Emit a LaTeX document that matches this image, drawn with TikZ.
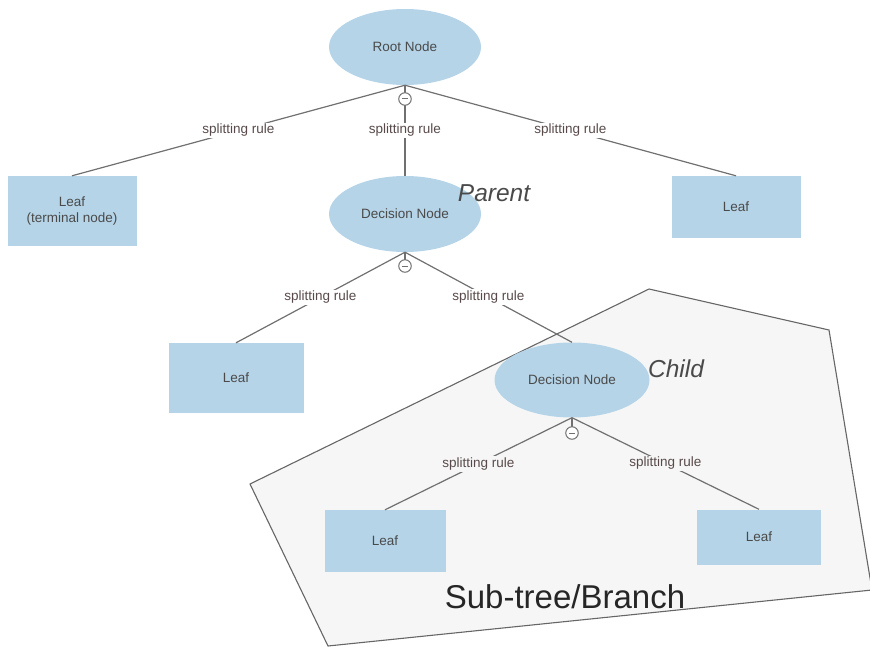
\documentclass[tikz,border=0pt]{standalone}
\usepackage{fontspec}
\setmainfont{Liberation Sans}
\usetikzlibrary{shapes.geometric}
\definecolor{nodeblue}{HTML}{B5D4E8}
\definecolor{edgegray}{HTML}{707070}
\definecolor{txtgray}{HTML}{4A4A4A}
\definecolor{rulegray}{HTML}{584A4A}
\definecolor{branchfill}{HTML}{F6F6F6}
\definecolor{branchline}{HTML}{666666}
\tikzset{
  treeellipse/.style={ellipse, fill=nodeblue, draw=none, inner sep=0pt,
    minimum width=152pt, minimum height=76pt, text=txtgray,
    font=\fontsize{13.5}{15}\selectfont},
  leafbox/.style={rectangle, fill=nodeblue, draw=none, inner sep=0pt,
    text=txtgray, align=center, font=\fontsize{13.5}{16}\selectfont},
  edge/.style={draw=edgegray, line width=1.2pt},
  rulelabel/.style={fill=#1, inner sep=1.5pt, text=rulegray,
    font=\fontsize{13.5}{15}\selectfont},
  rulelabel/.default=white,
  collapse/.style={circle, draw=edgegray, fill=white, line width=1pt,
    minimum size=12.5pt, inner sep=0pt,
    path picture={\draw[edgegray, line width=1pt]
      ([xshift=-3pt]path picture bounding box.center) --
      ([xshift=3pt]path picture bounding box.center);}},
  rolelabel/.style={text=txtgray, font=\fontsize{24.5}{28}\selectfont\itshape},
}
\begin{document}
\begin{tikzpicture}[x=1pt, y=-1pt]
  \useasboundingbox (0,0) rectangle (870,647);

  % shaded region marking the sub-tree
  \draw[fill=branchfill, draw=branchline, line width=1.1pt, line join=miter]
    (250,484) -- (649,289) -- (829,330) -- (872,590) -- (328,646) -- cycle;

  % nodes
  \node[treeellipse] (root) at (405,47) {Root Node};
  \node[leafbox, minimum width=129pt, minimum height=70pt] (leafA) at (72,211) {Leaf\\(terminal node)};
  \node[treeellipse] (dec1) at (405,214) {Decision Node};
  \node[leafbox, minimum width=129pt, minimum height=62pt] (leafB) at (736,207) {Leaf};
  \node[leafbox, minimum width=135pt, minimum height=70pt] (leafC) at (236,378) {Leaf};
  \node[treeellipse, minimum width=155pt, minimum height=75pt] (dec2) at (572,380) {Decision Node};
  \node[leafbox, minimum width=121pt, minimum height=62pt] (leafD) at (385,541) {Leaf};
  \node[leafbox, minimum width=124pt, minimum height=55pt] (leafE) at (759,537) {Leaf};

  % collapse markers below the split nodes
  \coordinate (c0pos) at (405,99);
  \coordinate (c1pos) at (405,266);
  \coordinate (c2pos) at (572,433);

  % connectors with their splitting rules
  \draw[edge] (root.south) -- node[rulelabel] {splitting rule} (leafA.north);
  \draw[edge] (root.south) -- node[rulelabel] {splitting rule} (leafB.north);
  \draw[edge] (root.south) -- node[rulelabel, pos=0.5] {splitting rule} (dec1.north);
  \draw[edge] (dec1.south) -- node[rulelabel] {splitting rule} (leafC.north);
  \draw[edge] (dec1.south) -- node[rulelabel] {splitting rule} (dec2.north);
  \draw[edge] (dec2.south) -- node[rulelabel=branchfill] {splitting rule} (leafD.north);
  \draw[edge] (dec2.south) -- node[rulelabel=branchfill] {splitting rule} (leafE.north);
  \draw[edge] (dec1.south) -- (c1pos);
  \draw[edge] (dec2.south) -- (c2pos);

  % markers sit over the joins
  \node[collapse] (c0) at (c0pos) {};
  \node[collapse] (c1) at (c1pos) {};
  \node[collapse] (c2) at (c2pos) {};

  % role captions
  \node[rolelabel] (parent) at (494,193) {Parent};
  \node[rolelabel] (child) at (676,369) {Child};
  \node[text=black!85, font=\fontsize{33}{38}\selectfont] (branch) at (565,597) {Sub-tree/Branch};
\end{tikzpicture}
\end{document}
